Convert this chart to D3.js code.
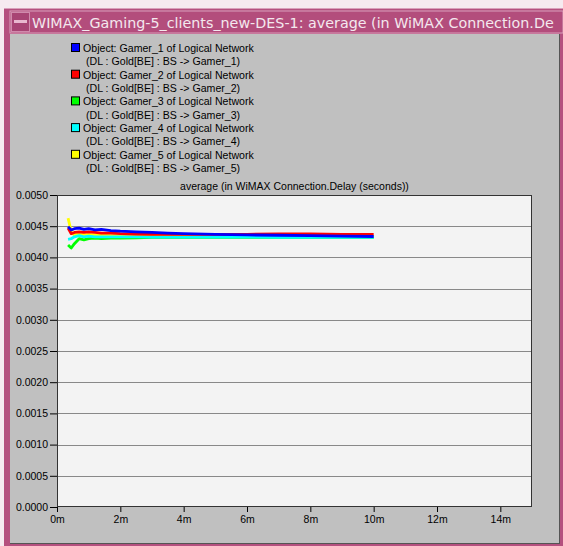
<!DOCTYPE html>
<html><head><meta charset="utf-8">
<script src="https://cdn.jsdelivr.net/npm/d3@7"></script>
<style>body{margin:0;background:#fff;}svg{display:block;}</style>
</head><body>
<script>
const windowTitle = "WIMAX_Gaming-5_clients_new-DES-1: average (in WiMAX Connection.De";
const chartTitle = "average (in WiMAX Connection.Delay (seconds))";
const seriesNames = ["Gamer_1","Gamer_2","Gamer_3","Gamer_4","Gamer_5"];
const seriesColors = ["#0000ff","#ff0000","#00ff00","#00ffff","#ffff00"];
const times = [0.35,0.45,0.55,0.7,0.85,1.0,1.2,1.4,1.7,2.0,2.5,3,3.5,4,5,6,7,8,9,10];
const gamer1 = [4.49,4.44,4.46,4.47,4.45,4.46,4.44,4.45,4.43,4.42,4.41,4.40,4.39,4.38,4.37,4.36,4.355,4.35,4.34,4.335];
const gamer2 = [4.47,4.38,4.40,4.41,4.40,4.41,4.40,4.39,4.39,4.38,4.375,4.37,4.37,4.37,4.37,4.37,4.375,4.375,4.37,4.37];
const gamer3 = [4.20,4.15,4.22,4.30,4.28,4.30,4.31,4.30,4.31,4.31,4.315,4.32,4.32,4.32,4.32,4.32,4.32,4.32,4.32,4.32];
const gamer4 = [4.29,4.30,4.33,4.35,4.33,4.34,4.33,4.33,4.33,4.33,4.33,4.325,4.325,4.325,4.325,4.325,4.32,4.32,4.32,4.32];
const gamer5 = [4.63,4.41,4.36,4.38,4.36,4.37,4.36,4.355,4.35,4.35,4.345,4.345,4.34,4.34,4.335,4.335,4.33,4.33,4.33,4.33];
const yTicks = [0,0.0005,0.001,0.0015,0.002,0.0025,0.003,0.0035,0.004,0.0045,0.005];
const xTicks = [0,2,4,6,8,10,12,14];
const xTickLabels = ["0m","2m","4m","6m","8m","10m","12m","14m"];

const W=563,H=546;
const svg=d3.select("body").append("svg").attr("width",W).attr("height",H);
// frame
svg.append("rect").attr("x",0).attr("y",0).attr("width",W).attr("height",H).attr("fill","#f6eaf0");
svg.append("rect").attr("x",4).attr("y",8).attr("width",W-4).attr("height",H-8).attr("fill","#b5507f");
svg.append("line").attr("x1",4).attr("x2",W).attr("y1",8.5).attr("y2",8.5).attr("stroke","#d9a0bb");
// title bar
svg.append("rect").attr("x",10).attr("y",11).attr("width",W-10).attr("height",22).attr("fill","#b34d7c").attr("stroke","#d9a0bb").attr("stroke-width",1);
svg.append("rect").attr("x",11.5).attr("y",12.5).attr("width",18).attr("height",19).attr("fill","#a84474").attr("stroke","#d08aac");
svg.append("rect").attr("x",14).attr("y",20).attr("width",13).attr("height",3).attr("fill","#e8b8cf");
svg.append("text").attr("x",32).attr("y",28).attr("font-family","DejaVu Sans").attr("font-size",14.3)
  .attr("fill","#f4e8ee").text(windowTitle);
// gray panel
svg.append("rect").attr("x",10).attr("y",34).attr("width",550).attr("height",509).attr("fill","#c0c0c0");
svg.append("line").attr("x1",10).attr("x2",560).attr("y1",543.5).attr("y2",543.5).attr("stroke","#555");
svg.append("line").attr("x1",559.5).attr("x2",559.5).attr("y1",34).attr("y2",544).attr("stroke","#555");

// legend
const lg=svg.append("g").attr("font-family","Liberation Sans, Arial, sans-serif").attr("font-size",10.6).attr("fill","#000");
seriesNames.forEach((n,i)=>{
  const cy=48+i*26.7;
  lg.append("rect").attr("x",71.5).attr("y",cy-4.5).attr("width",8).attr("height",8).attr("fill",seriesColors[i]).attr("stroke","#000");
  lg.append("text").attr("x",83).attr("y",cy+3.8).text("Object: "+n+" of Logical Network");
  lg.append("text").attr("x",86).attr("y",cy+17.1).text("(DL : Gold[BE] : BS -> "+n+")");
});

// plot
const L=57,R=532,T=195,B=507;
const x=d3.scaleLinear().domain([0,15]).range([L,R]);
const y=d3.scaleLinear().domain([0,0.005]).range([B,T]);
svg.append("rect").attr("x",L).attr("y",T).attr("width",R-L).attr("height",B-T).attr("fill","#f3f3f3");
svg.append("g").selectAll("line").data(yTicks.slice(1,-1)).join("line")
  .attr("x1",L).attr("x2",R).attr("y1",d=>Math.round(y(d))+0.5).attr("y2",d=>Math.round(y(d))+0.5)
  .attr("stroke","#888");
svg.append("text").attr("x",(L+R)/2).attr("y",190).attr("text-anchor","middle")
  .attr("font-family","Liberation Sans, Arial, sans-serif").attr("font-size",10.5).text(chartTitle);

const line=d3.line().x(d=>x(d[0])).y(d=>y(d[1]/1000));
const data=[gamer1,gamer2,gamer3,gamer4,gamer5];
[4,2,3,1,0].forEach(i=>{
  svg.append("path").datum(times.map((t,j)=>[t,data[i][j]])).attr("d",line)
    .attr("fill","none").attr("stroke",seriesColors[i]).attr("stroke-width",2.8).attr("stroke-linejoin","round");
});

svg.append("rect").attr("x",L+0.5).attr("y",T+0.5).attr("width",R-L-1).attr("height",B-T-1).attr("fill","none").attr("stroke","#333");

const ya=svg.append("g").attr("transform",`translate(${L},0)`)
  .call(d3.axisLeft(y).tickValues(yTicks).tickFormat(d3.format(".4f")).tickSize(7).tickPadding(2));
ya.select(".domain").remove();
const xa=svg.append("g").attr("transform",`translate(0,${B})`)
  .call(d3.axisBottom(x).tickValues(xTicks).tickFormat((d,i)=>xTickLabels[i]).tickSize(5).tickPadding(4));
xa.select(".domain").remove();
svg.selectAll(".tick text").attr("font-family","Liberation Sans, Arial, sans-serif").attr("font-size",10.5).attr("fill","#000");
svg.selectAll(".tick line").attr("stroke","#000");
</script>
</body></html>
